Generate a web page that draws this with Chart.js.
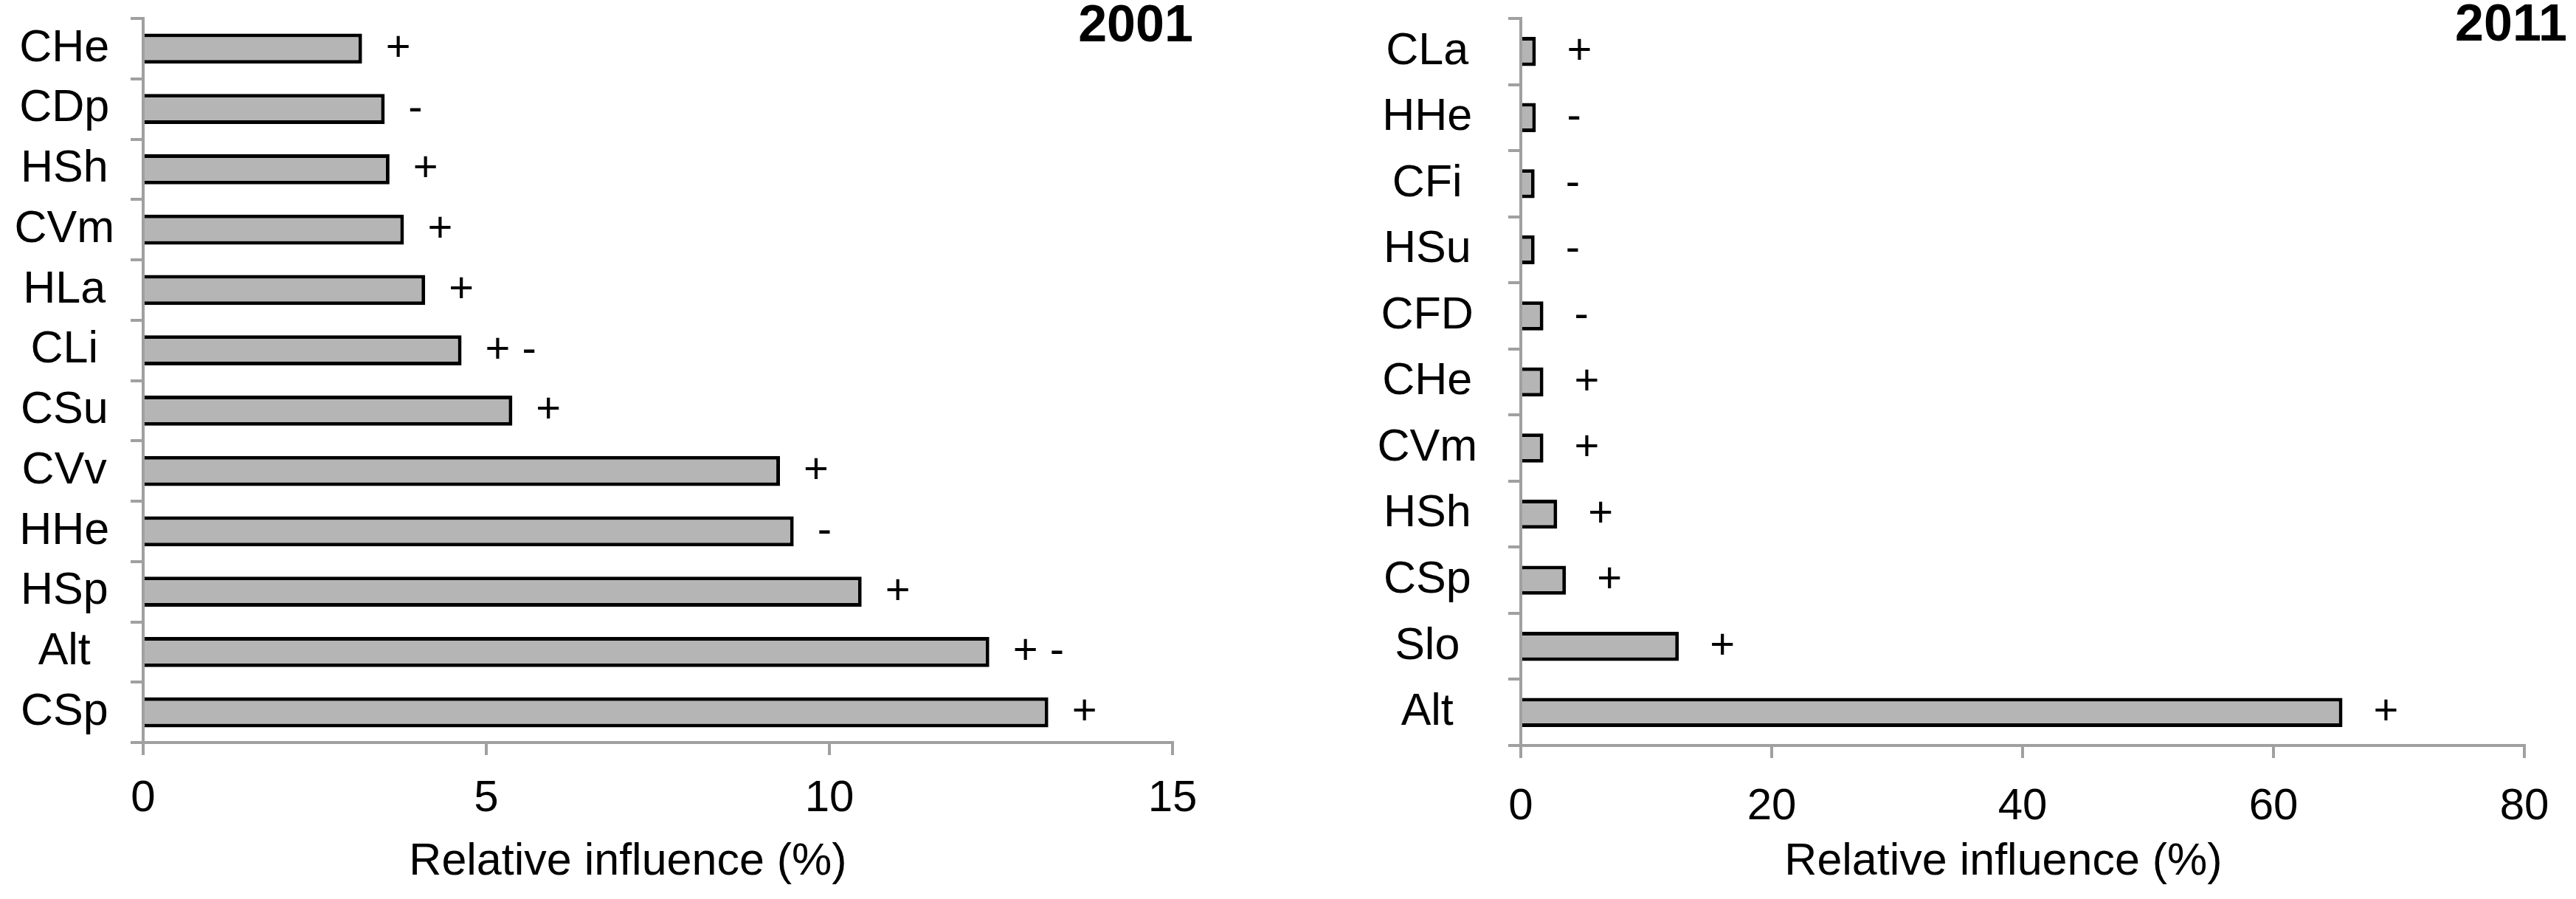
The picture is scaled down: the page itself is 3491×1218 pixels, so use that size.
<!DOCTYPE html>
<html>
<head>
<meta charset="utf-8">
<script src="https://cdn.jsdelivr.net/npm/chart.js@4/dist/chart.umd.min.js"></script>
<style>
  html, body { margin: 0; padding: 0; background: #fff; }
  #wrap { position: relative; width: 3491px; height: 1218px; overflow: hidden; }
  canvas { position: absolute; top: 0; }
  #c2001 { left: 0; }
  #c2011 { left: 1745px; }
</style>
</head>
<body>
<div id="wrap">
  <canvas id="c2001" width="1745" height="1218"></canvas>
  <canvas id="c2011" width="1746" height="1218"></canvas>
</div>
<script>
/* ── Dữ liệu: 2001 (trên xuống dưới) ── */
const labels2001 = ['CHe', 'CDp', 'HSh', 'CVm', 'HLa', 'CLi', 'CSu', 'CVv', 'HHe', 'HSp', 'Alt', 'CSp'];
const values2001 = [3.19, 3.52, 3.59, 3.80, 4.11, 4.64, 5.38, 9.28, 9.48, 10.47, 12.33, 13.19];
const signs2001  = ['+', '-', '+', '+', '+', '+ -', '+', '+', '-', '+', '+ -', '+'];
const ticks2001  = [0, 5, 10, 15];

/* ── Dữ liệu: 2011 ── */
const labels2011 = ['CLa', 'HHe', 'CFi', 'HSu', 'CFD', 'CHe', 'CVm', 'HSh', 'CSp', 'Slo', 'Alt'];
const values2011 = [1.2, 1.2, 1.1, 1.1, 1.8, 1.8, 1.8, 2.9, 3.6, 12.6, 65.5];
const signs2011  = ['+', '-', '-', '-', '-', '+', '+', '+', '+', '+', '+'];
const ticks2011  = [0, 20, 40, 60, 80];

const AXIS_TITLE = 'Relative influence (%)';
const FONT = 'Liberation Sans, Arial, sans-serif';
const AXIS_GREY = '#a0a0a0';

/* ── Plugin: dấu +/- cạnh thanh, tiêu đề trục, năm ── */
const annotate = {
  id: 'annotate',
  afterDatasetsDraw(chart, args, opts) {
    const ctx = chart.ctx;
    const meta = chart.getDatasetMeta(0);
    ctx.save();
    ctx.fillStyle = '#000';
    ctx.textBaseline = 'middle';

    ctx.font = '58px ' + FONT;
    ctx.textAlign = 'left';
    meta.data.forEach((bar, i) => {
      ctx.fillText(opts.signs[i], bar.x + opts.signGap, bar.y);
    });

    ctx.textAlign = 'center';
    ctx.font = '61px ' + FONT;
    ctx.fillText(AXIS_TITLE, opts.titleX, opts.titleY);

    ctx.font = 'bold 70px ' + FONT;
    ctx.fillText(opts.year, opts.yearX, opts.yearY);
    ctx.restore();
  },
};

function makeChart(id, cfg) {
  const el = document.getElementById(id);
  return new Chart(el, {
    type: 'bar',
    data: {
      labels: cfg.labels,
      datasets: [{
        data: cfg.values,
        backgroundColor: '#b5b5b5',
        borderColor: '#000',
        borderWidth: 5,
        borderSkipped: 'start',
        barPercentage: cfg.barPct,
        categoryPercentage: 1,
      }],
    },
    options: {
      indexAxis: 'y',
      responsive: false,
      animation: false,
      devicePixelRatio: 1,
      layout: { padding: { left: 0, top: cfg.top, right: cfg.right, bottom: 0 } },
      plugins: {
        legend: { display: false },
        tooltip: { enabled: false },
        annotate: cfg.annotate,
      },
      scales: {
        y: {
          grid: { drawOnChartArea: false, drawTicks: true, tickLength: 17, color: AXIS_GREY, lineWidth: 4 },
          border: { display: true, color: AXIS_GREY, width: 4 },
          ticks: { color: '#000', font: { family: FONT, size: 61 }, padding: cfg.labelPad, crossAlign: 'center' },
          afterFit: s => { s.width = cfg.yWidth; s.paddingTop = 0; s.paddingBottom = 0; },
        },
        x: {
          min: 0,
          max: cfg.ticks[cfg.ticks.length - 1],
          afterBuildTicks: s => { s.ticks = cfg.ticks.map(v => ({ value: v })); },
          grid: { drawOnChartArea: false, drawTicks: true, tickLength: 17, color: AXIS_GREY, lineWidth: 4 },
          border: { display: true, color: AXIS_GREY, width: 4 },
          ticks: { color: '#000', font: { family: FONT, size: 60 }, padding: cfg.tickPad, maxRotation: 0 },
          afterFit: s => { s.height = cfg.xHeight; s.paddingLeft = 0; s.paddingRight = 0; },
        },
      },
    },
    plugins: [annotate],
  });
}

makeChart('c2001', {
  labels: labels2001, values: values2001, ticks: ticks2001,
  barPct: 0.5, top: 25, right: 156, yWidth: 194, xHeight: 212, labelPad: 22, tickPad: 23,
  annotate: { signs: signs2001, signGap: 32, titleX: 851, titleY: 1168, year: '2001', yearX: 1539, yearY: 37 },
});

makeChart('c2011', {
  labels: labels2011, values: values2011, ticks: ticks2011,
  barPct: 0.44, top: 25, right: 70, yWidth: 316, xHeight: 208, labelPad: 42, tickPad: 30,
  annotate: { signs: signs2011, signGap: 42, titleX: 970, titleY: 1168, year: '2011', yearX: 1658, yearY: 36 },
});
</script>
</body>
</html>
